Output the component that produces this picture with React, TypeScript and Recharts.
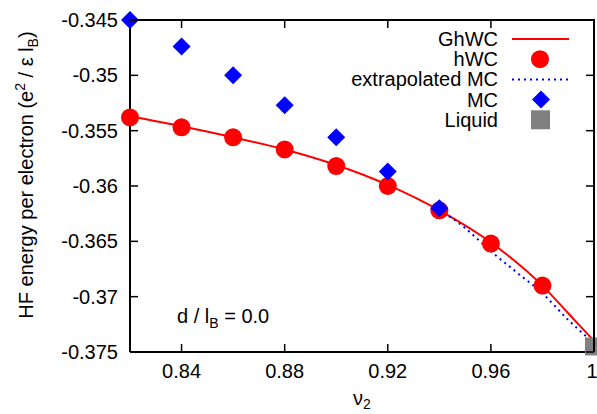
import {
  ComposedChart,
  Line,
  Scatter,
  XAxis,
  YAxis,
} from "recharts";

// hWC points (red circles)
const hwcX = [0.82, 0.84, 0.86, 0.88, 0.9, 0.92, 0.94, 0.96, 0.98];
const hwcY = [-0.3538, -0.3547, -0.3556, -0.3567, -0.3582, -0.36, -0.3622, -0.3652, -0.369];

// GhWC curve (red line)
const ghwcX = [0.82, 0.84, 0.86, 0.88, 0.9, 0.92, 0.94, 0.96, 0.98, 0.99, 1.0];
const ghwcY = [-0.3537, -0.3546, -0.3556, -0.3567, -0.3581, -0.3599, -0.3622, -0.3651, -0.369, -0.3715, -0.374];

// MC points (blue diamonds)
const mcX = [0.82, 0.84, 0.86, 0.88, 0.9, 0.92, 0.94];
const mcY = [-0.345, -0.3474, -0.35, -0.3527, -0.3556, -0.3587, -0.362];

// extrapolated MC (blue dotted)
const exX = [0.94, 0.95, 0.96, 0.97, 0.98, 0.99, 1.0];
const exY = [-0.3621, -0.3638, -0.3659, -0.3678, -0.3697, -0.3721, -0.3742];

// Liquid point
const liqX = [1.0];
const liqY = [-0.3745];

const xDomain = [0.82, 1];
const yDomain = [-0.375, -0.345];
const xTicks = [0.84, 0.88, 0.92, 0.96, 1];
const yTicks = [-0.375, -0.37, -0.365, -0.36, -0.355, -0.35, -0.345];

const legendLabels = ["GhWC", "hWC", "extrapolated MC", "MC", "Liquid"];

const zip = (xs: number[], ys: number[]) => xs.map((x, i) => ({ x, y: ys[i] }));

// plot box (set by chart margins and axis sizes)
const W = 597;
const H = 414;
const box = { left: 130, top: 20, right: 594, bottom: 352 };

const font = "'Liberation Sans', Arial, Helvetica, sans-serif";
const tickStyle = { fontSize: 20, fill: "#000", fontFamily: font };
const frame = { stroke: "#000", strokeWidth: 2 };
const tickMark = { stroke: "#000", strokeWidth: 1.5 };

const Circle = (p: any) => <circle cx={p.cx} cy={p.cy} r={9} fill="#ff0000" />;
const Diamond = (p: any) => (
  <polygon
    points={`${p.cx},${p.cy - 9} ${p.cx + 9},${p.cy} ${p.cx},${p.cy + 9} ${p.cx - 9},${p.cy}`}
    fill="#0000ff"
  />
);
const Square = (p: any) => <rect x={p.cx - 9} y={p.cy - 9} width={18} height={18} fill="#808080" />;

function Overlay() {
  const rowY = (i: number) => 39 + i * 20.2;
  const sx = (v: number) => box.left + ((v - xDomain[0]) / (xDomain[1] - xDomain[0])) * (box.right - box.left);
  const sy = (v: number) => box.bottom - ((v - yDomain[0]) / (yDomain[1] - yDomain[0])) * (box.bottom - box.top);
  return (
    <svg
      width={W}
      height={H}
      style={{ position: "absolute", left: 0, top: 0, pointerEvents: "none", zIndex: 2 }}
      fontFamily={font}
    >
      {/* mirrored ticks (top / right) */}
      {xTicks.map((t) => (
        <rect key={`tx${t}`} x={sx(t) - 0.75} y={box.top} width={1.5} height={8} fill="#000" />
      ))}
      {yTicks.map((t) => (
        <rect key={`ty${t}`} x={box.right - 8} y={sy(t) - 0.75} width={8} height={1.5} fill="#000" />
      ))}
      {/* y label */}
      <text transform="translate(33,175) rotate(-90)" textAnchor="middle" fontSize={20} fill="#000">
        HF energy per electron (e
        <tspan fontSize={14} dy={-8}>2</tspan>
        <tspan fontSize={20} dy={8}> / ε l</tspan>
        <tspan fontSize={14} dy={5}>B</tspan>
        <tspan fontSize={20} dy={-5}>)</tspan>
      </text>
      {/* x label */}
      <text x={362} y={405} textAnchor="middle" fontSize={20} fill="#000">
        ν<tspan fontSize={14} dy={4}>2</tspan>
      </text>
      {/* annotation */}
      <text x={177} y={323} fontSize={20} fill="#000">
        d / l<tspan fontSize={14} dy={5}>B</tspan>
        <tspan fontSize={20} dy={-5}> = 0.0</tspan>
      </text>
      {/* legend */}
      {legendLabels.map((l, i) => (
        <text key={l} x={498} y={rowY(i) + 7} textAnchor="end" fontSize={20} fill="#000">
          {l}
        </text>
      ))}
      <line x1={512} x2={569} y1={rowY(0)} y2={rowY(0)} stroke="#ff0000" strokeWidth={2} />
      <circle cx={540} cy={rowY(1)} r={9} fill="#ff0000" />
      <line x1={512} x2={568} y1={rowY(2)} y2={rowY(2)} stroke="#0000ff" strokeWidth={2} strokeDasharray="2 4" />
      <polygon
        points={`541,${rowY(3) - 9} 550,${rowY(3)} 541,${rowY(3) + 9} 532,${rowY(3)}`}
        fill="#0000ff"
      />
      <rect x={531} y={rowY(4) - 9.5} width={19} height={19} fill="#808080" />
    </svg>
  );
}

export default function App() {
  return (
    <div style={{ position: "absolute", left: 0, top: 0, width: W, height: H }}>
      <ComposedChart
        width={W}
        height={H}
        margin={{ top: box.top, right: W - box.right, bottom: 0, left: 0 }}
      >
        <XAxis
          type="number"
          dataKey="x"
          domain={xDomain}
          ticks={xTicks}
          height={H - box.bottom}
          tickSize={-8}
          tickMargin={20}
          tick={tickStyle}
          axisLine={frame}
          tickLine={tickMark}
        />
        <YAxis
          type="number"
          domain={yDomain}
          ticks={yTicks}
          width={box.left}
          tickSize={-8}
          tickMargin={20}
          tick={tickStyle}
          tickFormatter={(v) => String(v)}
          axisLine={frame}
          tickLine={tickMark}
        />
        <Line
          data={zip(ghwcX, ghwcY)}
          dataKey="y"
          type="monotone"
          stroke="#ff0000"
          strokeWidth={2}
          dot={false}
          isAnimationActive={false}
        />
        <Scatter data={zip(hwcX, hwcY)} dataKey="y" shape={Circle} isAnimationActive={false} />
        <Line
          data={zip(exX, exY)}
          dataKey="y"
          type="monotone"
          stroke="#0000ff"
          strokeWidth={2}
          strokeDasharray="2 4"
          dot={false}
          isAnimationActive={false}
        />
        <Scatter data={zip(mcX, mcY)} dataKey="y" shape={Diamond} isAnimationActive={false} />
        <Scatter data={zip(liqX, liqY)} dataKey="y" shape={Square} isAnimationActive={false} />
      </ComposedChart>
      {/* top and right border of the plot frame */}
      <div
        style={{
          position: "absolute",
          left: box.left,
          top: box.top - 1,
          width: box.right - box.left + 1,
          height: box.bottom - box.top + 1,
          borderTop: "2px solid #000",
          borderRight: "2px solid #000",
          boxSizing: "border-box",
          pointerEvents: "none",
          zIndex: 1,
        }}
      />
      <Overlay />
    </div>
  );
}
